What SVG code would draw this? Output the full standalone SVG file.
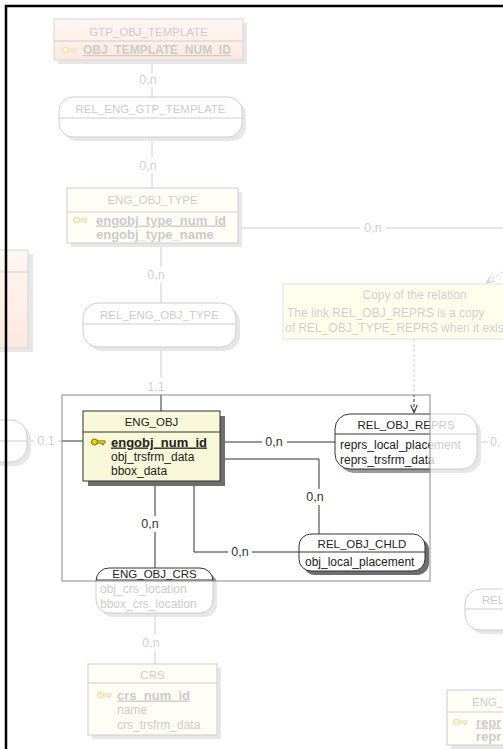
<svg xmlns="http://www.w3.org/2000/svg" width="503" height="749" viewBox="0 0 503 749">
<defs>
<style>
.t{font-family:"Liberation Sans",Arial,sans-serif;font-size:11.5px;fill:#222;text-anchor:middle}
.a{font-family:"Liberation Sans",Arial,sans-serif;font-size:12px;fill:#222}
.pk{font-family:"Liberation Sans",Arial,sans-serif;font-size:13px;font-weight:bold;fill:#222;text-decoration:underline}
.bd{font-family:"Liberation Sans",Arial,sans-serif;font-size:13px;font-weight:bold;fill:#222}
.lb{font-family:"Liberation Sans",Arial,sans-serif;font-size:12.5px;fill:#333;text-anchor:middle}
.nt{font-family:"Liberation Sans",Arial,sans-serif;font-size:12px;fill:#333}
.ent{fill:#f9f9da;stroke:#333;stroke-width:1}
.pch{fill:url(#peach);stroke:#555;stroke-width:1}
.rel{fill:#fff;stroke:#333;stroke-width:1}
.sh{fill:#999}
.shd{fill:#6e6e6e}
.sep{stroke:#333;stroke-width:1}
.ln{stroke:#333;stroke-width:1;fill:none}
.dl{stroke:#333;stroke-width:1;fill:none;stroke-dasharray:3,2}
</style>
<linearGradient id="peach" x1="0" y1="0" x2="0" y2="1">
<stop offset="0" stop-color="#fbdcca"/>
<stop offset="1" stop-color="#f7a07a"/>
</linearGradient>
<marker id="open" viewBox="0 0 10 10" refX="10" refY="5" markerWidth="8" markerHeight="8" markerUnits="userSpaceOnUse" orient="auto">
<path d="M0,1 L10,5 L0,9" fill="none" stroke="#333" stroke-width="1.3"/>
</marker>
<g id="key">
<circle cx="3.5" cy="0" r="3" fill="#e8d400" stroke="#7a6a00" stroke-width="1"/>
<path d="M6.5,-1.2 H14 V1.2 H12.5 V2.8 H11 V1.2 H6.5 Z" fill="#e8d400" stroke="#7a6a00" stroke-width="0.8"/>
</g>
</defs>
<rect x="0" y="0" width="503" height="749" fill="#fff"/>

<g id="connectors">
<path class="ln" d="M152,60 V73 M152,87 V97"/>
<text class="lb" x="148" y="84">0,n</text>
<path class="ln" d="M152,137 V157 M152,173 V188"/>
<text class="lb" x="148" y="170">0,n</text>
<path class="ln" d="M238,228 H360 M386,228 H503"/>
<text class="lb" x="373" y="232">0,n</text>
<path class="ln" d="M161,243 V267 M161,283 V303"/>
<text class="lb" x="156" y="279">0,n</text>
<path class="ln" d="M161,347 V378 M161,394 V411"/>
<text class="lb" x="156" y="391">1,1</text>
<path class="ln" d="M27,441 H34 M58,441 H83"/>
<text class="lb" x="46" y="445">0,1</text>
<path class="ln" d="M220,442 H262 M287,442 H335"/>
<text class="lb" x="274" y="446">0,n</text>
<path class="ln" d="M220,459 H319 V489 M319,505 V534"/>
<text class="lb" x="315" y="501">0,n</text>
<path class="ln" d="M155,481 V516 M155,532 V568"/>
<text class="lb" x="150" y="528">0,n</text>
<path class="ln" d="M194,481 V552 H228 M252,552 H299"/>
<text class="lb" x="240" y="556">0,n</text>
<path class="ln" d="M155,613 V634 M155,651 V664"/>
<text class="lb" x="151" y="647">0,n</text>
<path class="ln" d="M477,442 H488"/>
<text class="lb" x="490" y="446" style="text-anchor:start">0,</text>
<path class="dl" d="M414,339 V413" marker-end="url(#open)"/>
<path class="dl" d="M503,272 L486,283" marker-end="url(#open)"/>
</g>

<g id="gtp_obj_template">
<rect class="sh" x="58" y="23" width="189" height="41"/>
<rect class="pch" x="54" y="19" width="189" height="41"/>
<line class="sep" x1="54" y1="41" x2="243" y2="41"/>
<text class="t" x="148.5" y="36">GTP_OBJ_TEMPLATE</text>
<use href="#key" x="62" y="50"/>
<text class="pk" x="83" y="54" style="font-size:12px">OBJ_TEMPLATE_NUM_ID</text>
</g>

<g id="rel_eng_gtp_template">
<rect class="sh" x="63" y="101" width="183" height="40" rx="14"/>
<rect class="rel" x="59" y="97" width="183" height="40" rx="14"/>
<line class="sep" x1="59" y1="118" x2="242" y2="118"/>
<text class="t" x="150.5" y="112.5">REL_ENG_GTP_TEMPLATE</text>
</g>

<g id="eng_obj_type">
<rect class="sh" x="71" y="192" width="171" height="55"/>
<rect class="ent" x="67" y="188" width="171" height="55"/>
<line class="sep" x1="67" y1="212" x2="238" y2="212"/>
<text class="t" x="152.5" y="204">ENG_OBJ_TYPE</text>
<use href="#key" x="73" y="220"/>
<text class="pk" x="96" y="224.5">engobj_type_num_id</text>
<text class="bd" x="96" y="239">engobj_type_name</text>
</g>

<g id="left_entity">
<rect class="sh" x="-6" y="254" width="39" height="98"/>
<rect class="pch" x="-10" y="250" width="38" height="98"/>
<line class="sep" x1="-10" y1="272" x2="28" y2="272"/>
</g>

<g id="rel_eng_obj_type">
<rect class="sh" x="87" y="307" width="153" height="44" rx="15"/>
<rect class="rel" x="83" y="303" width="153" height="44" rx="15"/>
<line class="sep" x1="83" y1="324" x2="236" y2="324"/>
<text class="t" x="159.5" y="319">REL_ENG_OBJ_TYPE</text>
</g>

<g id="note">
<rect x="283" y="284" width="240" height="55" fill="#ffffb0" stroke="#888" stroke-width="1"/>
<text class="nt" x="414.5" y="299" style="text-anchor:middle">Copy of the relation</text>
<text class="nt" x="287" y="317">The link REL_OBJ_REPRS is a copy</text>
<text class="nt" x="285" y="332">of REL_OBJ_TYPE_REPRS when it exis</text>
</g>

<g id="left_rel">
<rect class="sh" x="-26" y="424" width="57" height="42" rx="16"/>
<rect class="rel" x="-30" y="420" width="57" height="42" rx="16"/>
<line class="sep" x1="-30" y1="441" x2="27" y2="441"/>
</g>

<g id="eng_obj">
<rect class="shd" x="88" y="416" width="137" height="70"/>
<rect class="ent" x="83" y="411" width="137" height="70"/>
<line class="sep" x1="83" y1="432" x2="220" y2="432"/>
<text class="t" x="151.5" y="426">ENG_OBJ</text>
<use href="#key" x="91" y="442"/>
<text class="pk" x="111" y="446.5">engobj_num_id</text>
<text class="a" x="111" y="460.5">obj_trsfrm_data</text>
<text class="a" x="111" y="475">bbox_data</text>
</g>

<g id="rel_obj_reprs">
<rect class="sh" x="339" y="418" width="142" height="55" rx="15"/>
<rect class="rel" x="335" y="414" width="142" height="55" rx="15"/>
<line class="sep" x1="335" y1="434" x2="477" y2="434"/>
<text class="t" x="406" y="429">REL_OBJ_REPRS</text>
<text class="a" x="340" y="449">reprs_local_placement</text>
<text class="a" x="340" y="464">reprs_trsfrm_data</text>
</g>

<g id="rel_obj_chld">
<rect class="shd" x="303" y="538" width="126" height="37" rx="12"/>
<rect class="rel" x="299" y="534" width="126" height="37" rx="12"/>
<line class="sep" x1="299" y1="552" x2="425" y2="552"/>
<text class="t" x="362" y="547.5">REL_OBJ_CHLD</text>
<text class="a" x="305" y="566">obj_local_placement</text>
</g>

<g id="eng_obj_crs">
<rect class="sh" x="100" y="572" width="117" height="45" rx="13"/>
<rect class="rel" x="96" y="568" width="117" height="45" rx="13"/>
<line class="sep" x1="96" y1="580" x2="213" y2="580"/>
<text class="t" x="154.5" y="578">ENG_OBJ_CRS</text>
<text class="a" x="100" y="593">obj_crs_location</text>
<text class="a" x="100" y="608">bbox_crs_location</text>
</g>

<g id="crs">
<rect class="sh" x="92" y="668" width="129" height="71"/>
<rect class="ent" x="88" y="664" width="129" height="71"/>
<line class="sep" x1="88" y1="683" x2="217" y2="683"/>
<text class="t" x="152.5" y="679">CRS</text>
<use href="#key" x="97" y="695"/>
<text class="pk" x="117" y="699.5">crs_num_id</text>
<text class="a" x="117" y="714">name</text>
<text class="a" x="117" y="729">crs_trsfrm_data</text>
</g>

<g id="rel_right">
<rect class="sh" x="469" y="593" width="80" height="41" rx="15"/>
<rect class="rel" x="465" y="589" width="80" height="41" rx="15"/>
<line class="sep" x1="465" y1="609" x2="545" y2="609"/>
<text class="t" x="482" y="604" style="text-anchor:start">REL</text>
</g>

<g id="eng_right">
<rect class="sh" x="451" y="694" width="80" height="55"/>
<rect class="ent" x="447" y="690" width="80" height="55"/>
<line class="sep" x1="447" y1="712" x2="527" y2="712"/>
<text class="t" x="472" y="705.5" style="text-anchor:start">ENG_</text>
<use href="#key" x="453" y="722"/>
<text class="pk" x="476" y="726.5">repr</text>
<text class="bd" x="476" y="740.5">repr</text>
</g>

<path d="M0,0 H503 V749 H0 Z M62,395 V581 H430 V395 Z" fill="#fff" fill-opacity="0.76" fill-rule="evenodd"/>
<rect x="62" y="395" width="368" height="186" fill="none" stroke="#8a8a8a" stroke-width="1"/>
<path d="M6,749 V6 H503" fill="none" stroke="#000" stroke-width="2.5"/>
</svg>
